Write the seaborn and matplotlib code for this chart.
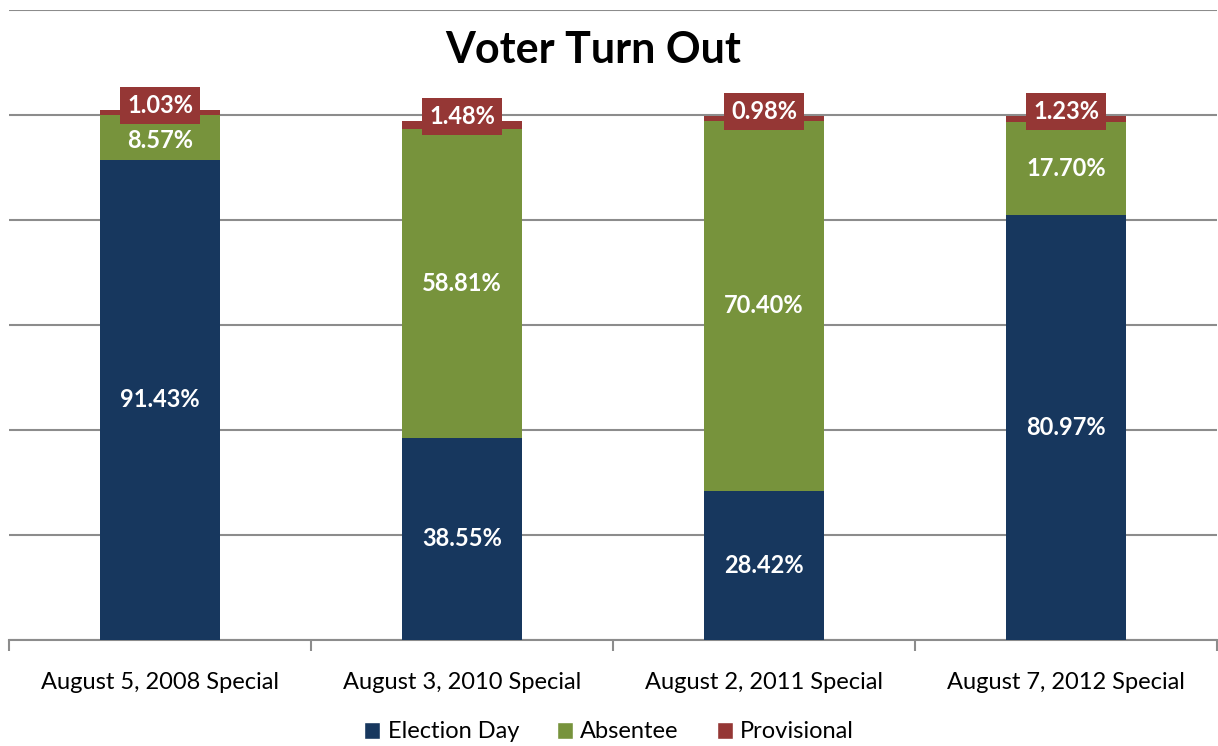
import matplotlib.pyplot as plt
import numpy as np
import pandas as pd
import seaborn as sns
from matplotlib.patches import Patch

# Données
elections = ["August 5, 2008 Special", "August 3, 2010 Special",
             "August 2, 2011 Special", "August 7, 2012 Special"]
election_day = [91.43, 38.55, 28.42, 80.97]
absentee = [8.57, 58.81, 70.40, 17.70]
provisional = [1.03, 1.48, 0.98, 1.23]

series_names = ["Election Day", "Absentee", "Provisional"]
colors = ["#17375E", "#77933C", "#953735"]

sns.set_style("white")
plt.rcParams['font.family'] = ['Lato', 'DejaVu Sans']
plt.rcParams['text.color'] = 'black'
plt.rcParams['xtick.color'] = 'black'

fig = plt.figure(figsize=(12.18, 7.46), dpi=100)
ax = fig.add_axes([9 / 1218, 1 - 640 / 746, 1208 / 1218, 630 / 746])

values = [np.array(election_day), np.array(absentee), np.array(provisional)]
bottom = np.zeros(len(elections))
for name, vals, col in zip(series_names, values, colors):
    df = pd.DataFrame({"election": elections, "value": vals / 100})
    sns.barplot(data=df, x="election", y="value", ax=ax, color=col,
                width=0.4, bottom=bottom / 100, saturation=1, zorder=3,
                linewidth=0, edgecolor="none")
    for i, v in enumerate(vals):
        if name == "Provisional":
            ypos = (bottom[i] + v) / 100 + 0.008
            ax.text(i, ypos, f"{v:.2f}%", ha="center", va="center", color="white",
                    fontsize=17, fontweight="bold", zorder=5,
                    bbox=dict(boxstyle="square,pad=0.3", fc=col, ec="none"))
        else:
            ypos = (bottom[i] + v / 2) / 100
            if name == "Absentee" and v < 10:
                ypos -= 0.006
            ax.text(i, ypos, f"{v:.2f}%", ha="center", va="center", color="white",
                    fontsize=17, fontweight="bold", zorder=5)
    bottom = bottom + vals

# Axes
ax.set_ylim(0, 1.2)
ax.set_xlim(-0.5, 3.5)
ax.set_yticks(np.arange(0, 1.21, 0.2))
ax.yaxis.grid(True, color="#8C8C8C", linewidth=1.5, zorder=0)
ax.set_yticklabels([])
ax.tick_params(axis="y", length=0)
for s in ["left", "right", "top"]:
    ax.spines[s].set_visible(False)
ax.spines["bottom"].set_color("#8C8C8C")
ax.spines["bottom"].set_linewidth(1.5)
ax.set_xlabel("")
ax.set_ylabel("")
ax.set_xticks(np.arange(len(elections)))
ax.set_xticklabels(elections, fontsize=17)
ax.tick_params(axis="x", which="major", bottom=False, length=0, pad=23)
ax.set_xticks(np.arange(-0.5, 4, 1), minor=True)
ax.tick_params(axis="x", which="minor", bottom=True, length=8, width=1.5,
               color="#8C8C8C", direction="out")

fig.text(593 / 1218, 1 - 50 / 746, "Voter Turn Out", ha="center", va="center",
         fontsize=31, fontweight="bold")

handles = [Patch(facecolor=c, label=n) for n, c in zip(series_names, colors)]
fig.legend(handles=handles, loc="center", bbox_to_anchor=(0.5, 1 - 732 / 746),
           ncol=3, frameon=False, fontsize=17, handlelength=0.7, handleheight=0.7,
           handletextpad=0.3, columnspacing=1.6)

fig.savefig("out.png", dpi=100)
